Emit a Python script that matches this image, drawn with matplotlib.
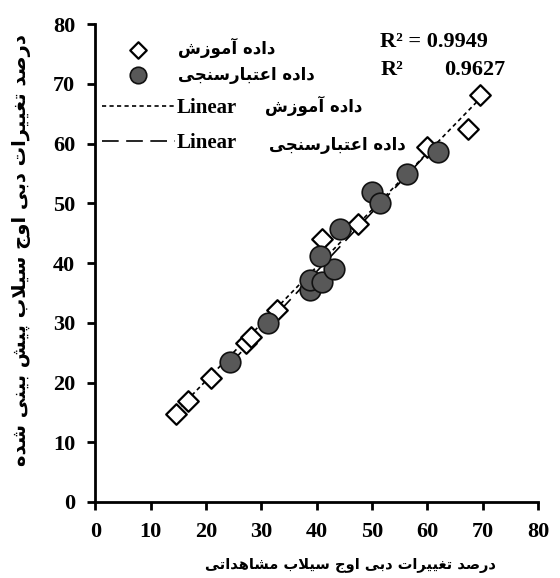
import matplotlib
matplotlib.use('Agg')
import matplotlib.pyplot as plt
import numpy as np

# presentation forms: isolated, final, initial, medial (None = non-joining forward)
FORMS = {
    'ا': (0xFE8D, 0xFE8E, None, None),
    'آ': (0xFE81, 0xFE82, None, None),
    'ب': (0xFE8F, 0xFE90, 0xFE91, 0xFE92),
    'ت': (0xFE95, 0xFE96, 0xFE97, 0xFE98),
    'ج': (0xFE9D, 0xFE9E, 0xFE9F, 0xFEA0),
    'د': (0xFEA9, 0xFEAA, None, None),
    'ر': (0xFEAD, 0xFEAE, None, None),
    'ز': (0xFEAF, 0xFEB0, None, None),
    'س': (0xFEB1, 0xFEB2, 0xFEB3, 0xFEB4),
    'ش': (0xFEB5, 0xFEB6, 0xFEB7, 0xFEB8),
    'ص': (0xFEB9, 0xFEBA, 0xFEBB, 0xFEBC),
    'ع': (0xFEC9, 0xFECA, 0xFECB, 0xFECC),
    'غ': (0xFECD, 0xFECE, 0xFECF, 0xFED0),
    'ل': (0xFEDD, 0xFEDE, 0xFEDF, 0xFEE0),
    'م': (0xFEE1, 0xFEE2, 0xFEE3, 0xFEE4),
    'ن': (0xFEE5, 0xFEE6, 0xFEE7, 0xFEE8),
    'ه': (0xFEE9, 0xFEEA, 0xFEEB, 0xFEEC),
    'و': (0xFEED, 0xFEEE, None, None),
    'پ': (0xFB56, 0xFB57, 0xFB58, 0xFB59),
    'ی': (0xFBFC, 0xFBFD, 0xFBFE, 0xFBFF),
    'لا': (0xFEFB, 0xFEFC, None, None),
}


def fa(s):
    # crude shaping + reverse, matplotlib has no RTL layout
    s = s.replace('لا', '\x01')
    chars = ['لا' if c == '\x01' else c for c in s]
    out = []
    for i, c in enumerate(chars):
        if c not in FORMS:
            out.append(c)
            continue
        f = FORMS[c]
        prev = chars[i - 1] if i > 0 else None
        nxt = chars[i + 1] if i + 1 < len(chars) else None
        jp = prev in FORMS and FORMS[prev][2] is not None
        jn = f[2] is not None and nxt in FORMS
        if jp and jn:
            code = f[3]
        elif jp:
            code = f[1]
        elif jn:
            code = f[2]
        else:
            code = f[0]
        out.append(chr(code))
    return ''.join(out)[::-1]


train_obs = [14.6, 16.7, 20.9, 27.2, 28.1, 32.9, 41.0, 47.4, 59.9, 67.3, 69.5]
train_pred = [14.8, 16.9, 20.7, 26.6, 27.7, 32.1, 44.1, 46.5, 59.5, 62.4, 68.2]
valid_obs = [24.3, 31.2, 38.8, 38.8, 41.0, 43.1, 40.6, 44.3, 50.0, 51.4, 56.3, 61.9]
valid_pred = [23.5, 29.9, 35.5, 37.2, 36.9, 39.1, 41.2, 45.8, 51.9, 50.0, 54.9, 58.6]
ticks = [0, 10, 20, 30, 40, 50, 60, 70, 80]

lbl_train = 'داده آموزش'
lbl_valid = 'داده اعتبارسنجی'
xlab = 'درصد تغییرات دبی اوج سیلاب مشاهداتی'
ylab = 'درصد تغییرات دبی اوج سیلاب پیش بینی شده'
r2_train = 'R² = 0.9949'
r2_valid = '0.9627'

fa_font = 'DejaVu Sans'
num_font = 'Liberation Serif'

fig = plt.figure(figsize=(5.6, 5.78), dpi=100)
ax = fig.add_axes([0.170, 0.1315, 0.791, 0.8265])

dot = (0, (2.5, 2))
dash = (0, (10, 4.5))

# trend lines
p1 = np.polyfit(train_obs, train_pred, 1)
xt = np.array([min(train_obs), max(train_obs)])
ln1, = ax.plot(xt, np.polyval(p1, xt), color='black', lw=1.2, ls=dot, zorder=2)
p2 = np.polyfit(valid_obs, valid_pred, 1)
xv = np.array([min(valid_obs), max(valid_obs)])
ln2, = ax.plot(xv, np.polyval(p2, xv), color='black', lw=1.2, ls=dash, zorder=2)

sc1 = ax.scatter(train_obs, train_pred, marker='D', s=110, facecolor='white',
                 edgecolor='black', linewidth=1.6, zorder=3)
sc2 = ax.scatter(valid_obs, valid_pred, marker='o', s=220, facecolor='#585858',
                 edgecolor='#111111', linewidth=1.2, zorder=4)

ax.set_xlim(0, 80)
ax.set_ylim(0, 80)
ax.set_xticks(ticks)
ax.set_yticks(ticks)
ax.set_xticklabels([str(t) for t in ticks], fontfamily=num_font, fontweight='bold', fontsize=16)
ax.set_yticklabels([str(t) for t in ticks], fontfamily=num_font, fontweight='bold', fontsize=16)
ax.tick_params(direction='out', length=6, width=2, pad=8.5)
for side in ['top', 'right']:
    ax.spines[side].set_visible(False)
for side in ['left', 'bottom']:
    ax.spines[side].set_linewidth(2)

# legend: markers
leg1 = ax.legend([sc1, sc2], [fa(lbl_train), fa(lbl_valid)],
                 loc='center left', bbox_to_anchor=(0.182, 0.895),
                 bbox_transform=fig.transFigure, frameon=False, borderpad=0,
                 borderaxespad=0, handlelength=4.37, handletextpad=0.18,
                 labelspacing=0.45, markerscale=0.8,
                 prop={'family': fa_font, 'size': 12, 'weight': 'bold'})
ax.add_artist(leg1)

# legend: trend lines
leg2 = ax.legend([ln1, ln2], ['Linear', 'Linear'],
                 loc='center left', bbox_to_anchor=(0.182, 0.783),
                 bbox_transform=fig.transFigure, frameon=False, borderpad=0,
                 borderaxespad=0, handlelength=3.5, handletextpad=0.1,
                 labelspacing=0.72,
                 prop={'family': num_font, 'size': 15, 'weight': 'bold'})
fig.text(0.473, 0.8166, fa(lbl_train), fontfamily=fa_font, fontweight='bold',
         fontsize=12, va='center', ha='left')
fig.text(0.48, 0.749, fa(lbl_valid), fontfamily=fa_font, fontweight='bold',
         fontsize=12, va='center', ha='left')

fig.text(0.679, 0.927, r2_train, fontfamily=num_font, fontweight='bold',
         fontsize=16, va='center', ha='left')
fig.text(0.679, 0.879, 'R²', fontfamily=num_font, fontweight='bold',
         fontsize=16, va='center', ha='left')
fig.text(0.902, 0.879, r2_valid, fontfamily=num_font, fontweight='bold',
         fontsize=16, va='center', ha='right')

fig.text(0.625, 0.022, fa(xlab), fontfamily=fa_font, fontweight='bold', fontsize=10.5,
         ha='center', va='center')
fig.text(0.039, 0.567, fa(ylab), fontfamily=fa_font, fontweight='bold', fontsize=14,
         ha='center', va='center', rotation=90)

fig.savefig('out.png', dpi=100)
